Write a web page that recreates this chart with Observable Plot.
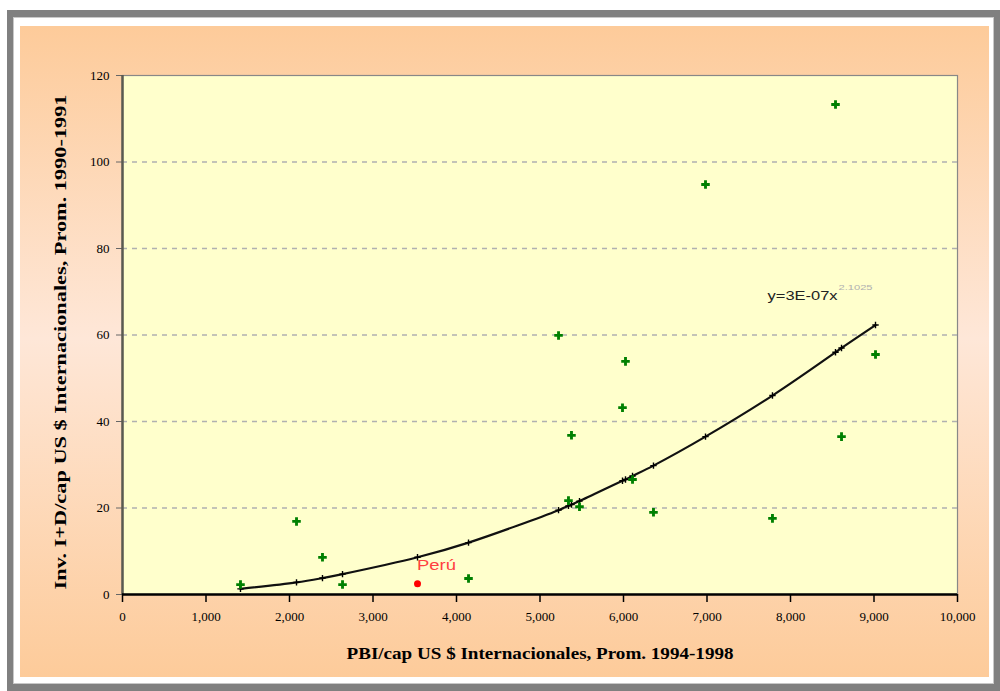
<!DOCTYPE html>
<html>
<head>
<meta charset="utf-8">
<script src="https://cdn.jsdelivr.net/npm/d3@7"></script>
<script src="https://cdn.jsdelivr.net/npm/@observablehq/plot@0.6"></script>
<style>
  html, body { margin: 0; padding: 0; background: #ffffff; }
  #wrap { position: relative; width: 1000px; height: 691px; overflow: hidden; }
  #grey { position: absolute; left: 7px; top: 10px; width: 993px; height: 681px; background: #808080; }
  #white { position: absolute; left: 13px; top: 17px; width: 979px; height: 665px; background: #ffffff; border: 1px solid #c8c8c8; }
  #orange { position: absolute; left: 20px; top: 26px; width: 969px; height: 651px;
    background: linear-gradient(to bottom, #FDCB9A 0%, #FEE7D8 48%, #FEE3CF 55%, #FDCB9A 100%); }
  #chart { position: absolute; left: 0; top: 0; }
</style>
</head>
<body>
<div id="wrap">
  <div id="grey"></div>
  <div id="white"></div>
  <div id="orange"></div>
  <div id="chart"></div>
</div>
<script>
// Countries: GDP per capita (x) and R&D per capita (y)
const gdpX = [1413, 2084, 2395, 2635, 4144, 5222, 5341, 5377, 5473, 5988, 6024, 6108, 6359, 6982, 7784, 8539, 8611, 9018];
const rdY  = [2.3, 16.9, 8.6, 2.3, 3.7, 59.9, 21.7, 36.8, 20.3, 43.2, 53.9, 26.6, 19.0, 94.8, 17.6, 113.3, 36.5, 55.5];
// Peru
const peruX = [3533];
const peruY = [2.5];
const peruLabel = "Perú";
// Fitted (power trend) values
const fitX = [1413, 2084, 2395, 2635, 3533, 4144, 5222, 5341, 5377, 5473, 5988, 6024, 6108, 6359, 6982, 7784, 8539, 8611, 9018];
const fitY = [1.3, 2.8, 3.8, 4.7, 8.6, 12.0, 19.5, 20.5, 20.8, 21.6, 26.3, 26.6, 27.4, 29.8, 36.5, 46.0, 56.0, 57.0, 62.3];
const equationText = "y=3E-07x";
const equationExp = "2.1025";
// Axis ticks and labels
const xTicks = [0, 1000, 2000, 3000, 4000, 5000, 6000, 7000, 8000, 9000, 10000];
const yTicks = [0, 20, 40, 60, 80, 100, 120];
const gridY = [20, 40, 60, 80, 100];
const xLabel = "PBI/cap US $ Internacionales, Prom. 1994-1998";
const yLabel = "Inv. I+D/cap US $ Internacionales, Prom. 1990-1991";

const countries = gdpX.map((x, i) => ({x, y: rdY[i]}));
const peru = peruX.map((x, i) => ({x, y: peruY[i]}));
const fit = fitX.map((x, i) => ({x, y: fitY[i]}));

const serif = "'Liberation Serif', 'Times New Roman', serif";
const sans = "Arial, 'Liberation Sans', sans-serif";

const chart = Plot.plot({
  width: 1000,
  height: 691,
  marginLeft: 122,
  marginRight: 43,
  marginTop: 75,
  marginBottom: 97,
  style: { background: "transparent", fontFamily: serif, overflow: "visible" },
  x: { domain: [0, 10000] },
  y: { domain: [0, 120] },
  marks: [
    Plot.frame({ fill: "#FFFFCC", stroke: "#888888", strokeWidth: 1.2 }),
    Plot.ruleY(gridY, { stroke: "#b0b0b0", strokeWidth: 1.6, strokeDasharray: "5,5" }),
    Plot.axisY({ ticks: yTicks, tickSize: 6, tickPadding: 7, stroke: "#666", fill: "#000",
      fontSize: 13, fontFamily: serif, label: null }),
    Plot.axisX({ ticks: xTicks, tickSize: 8, tickPadding: 9, stroke: "#000", strokeWidth: 1.5, fill: "#000",
      fontSize: 13, fontFamily: serif, tickFormat: d3.format(","), label: null }),
    Plot.ruleX([0], { stroke: "#5a5a50", strokeWidth: 2.5 }),
    Plot.ruleY([0], { stroke: "#000", strokeWidth: 2.5 }),
    Plot.line(fit, { x: "x", y: "y", stroke: "#111", strokeWidth: 2.2, curve: "catmull-rom" }),
    Plot.dot(fit, { x: "x", y: "y", symbol: "plus", r: 2.2, stroke: "#000", strokeWidth: 1.4 }),
    Plot.dot(countries, { x: "x", y: "y", symbol: "cross", r: 3.6, fill: "#008000", stroke: null }),
    Plot.dot(peru, { x: "x", y: "y", r: 3.5, fill: "#ff0000", stroke: null }),
    Plot.text(peru, { x: () => 3760, y: () => 6.7, text: () => peruLabel, fill: "#ff4040",
      fontSize: 15, fontFamily: sans, className: "fit-peru" }),
    Plot.text([equationText], { x: () => 7725, y: () => 69.1, text: d => d, textAnchor: "start",
      fill: "#222", fontSize: 13, fontFamily: sans, className: "fit-eq" }),
    Plot.text([equationExp], { x: () => 8575, y: () => 71.0, text: d => d, textAnchor: "start",
      fill: "#b0b0b0", fontSize: 8, fontFamily: sans, className: "fit-exp" }),
    Plot.text([xLabel], { frameAnchor: "bottom", dy: 64, text: d => d, fontSize: 16, fontWeight: "bold",
      fontFamily: serif, fill: "#000", className: "fit-xlab" }),
    Plot.text([yLabel], { frameAnchor: "left", textAnchor: "middle", dx: -62, dy: 7, rotate: -90, text: d => d,
      fontSize: 16, fontWeight: "bold", fontFamily: serif, fill: "#000", className: "fit-ylab" })
  ]
});
document.getElementById("chart").appendChild(chart);

// stretch texts to the widths seen in the reference
const stretch = { "fit-xlab": 387, "fit-ylab": 495, "fit-eq": 70, "fit-exp": 34, "fit-peru": 39 };
for (const [cls, len] of Object.entries(stretch)) {
  chart.querySelectorAll("g." + cls + " text").forEach(t => {
    t.setAttribute("textLength", len);
    t.setAttribute("lengthAdjust", "spacingAndGlyphs");
  });
}
</script>
</body>
</html>
